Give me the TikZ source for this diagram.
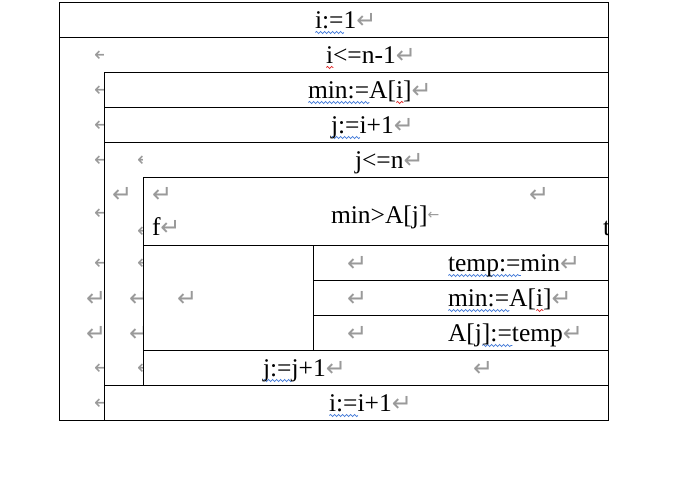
\documentclass[tikz,border=0pt]{standalone}
\usepackage{fontspec}
\setmainfont{Liberation Serif}
\newfontfamily\symf{DejaVu Sans}
\usetikzlibrary{decorations.pathmorphing}
\definecolor{mk}{HTML}{9A9A9A}
\definecolor{wblue}{HTML}{3F78D8}
\definecolor{wred}{HTML}{E02020}
\newlength\wvlen
\newcommand\wv[2]{\settowidth\wvlen{#2}\rlap{\tikz[baseline=0pt]\draw[draw=#1,line width=0.7pt,decorate,decoration={snake,amplitude=1.1pt,segment length=4pt}] (0pt,-4.5pt) -- (\the\wvlen,-4.5pt);}#2}
\newcommand\pmk{{\symf\fontsize{24}{24}\selectfont\textcolor{mk}{↵}}}
\newcommand\lmk{\raisebox{4pt}{\symf\fontsize{14}{14}\selectfont\textcolor{mk}{←}}}
\newcommand\lar{{\symf\fontsize{20}{20}\selectfont\textcolor{mk}{←}}}
\newcommand\larcut{\makebox[5pt][l]{\lar}}
\tikzset{
  txt/.style={anchor=base west,inner sep=0pt,outer sep=0pt,font=\fontsize{25.5}{30}\selectfont},
  pmark/.style={anchor=base west,inner sep=0pt,outer sep=0pt},
  frame/.style={line width=0.9pt,draw=black}
}
\begin{document}
\begin{tikzpicture}[x=1pt,y=-1pt]
\useasboundingbox (0,0) rectangle (691,501);
\fill[white] (0,0) rectangle (691,501);
% structure lines
\draw[frame] (59,2) rectangle (608,420);
\draw[frame] (59,37) -- (608,37);
\draw[frame] (104,72) -- (608,72);
\draw[frame] (104,72) -- (104,420);
\draw[frame] (104,107) -- (608,107);
\draw[frame] (104,142) -- (608,142);
\draw[frame] (143,177) -- (608,177);
\draw[frame] (143,177) -- (143,385);
\draw[frame] (143,245) -- (608,245);
\draw[frame] (313,245) -- (313,350);
\draw[frame] (313,280) -- (608,280);
\draw[frame] (313,315) -- (608,315);
\draw[frame] (143,350) -- (608,350);
\draw[frame] (104,385) -- (608,385);
% texts
\node[txt] (t1) at (315,28) {\wv{wblue}{i:=}1\pmk};
\node[txt] (t2) at (326,63) {\wv{wred}{i}<=n-1\pmk};
\node[txt] (t3) at (308,98) {\wv{wblue}{min:=}A[\wv{wred}{i}]\pmk};
\node[txt] (t4) at (331,133) {\wv{wblue}{j:=}i+1\pmk};
\node[txt] (t5) at (355,168) {j<=n\pmk};
\node[txt] (cond) at (331,223) {min>A[j]\lmk};
\node[txt] (f) at (152,235) {f\pmk};
\begin{scope}
\clip (143,177) rectangle (607.5,245);
\node[txt] (tt) at (603,235) {t};
\end{scope}
\node[txt] (s1) at (448,271) {\wv{wblue}{temp:=}min\pmk};
\node[txt] (s2) at (448,306) {\wv{wblue}{min:=}A[\wv{wred}{i}]\pmk};
\node[txt] (s3) at (448,341) {A[j\wv{wblue}{]:=}temp\pmk};
\node[txt] (s4) at (263,376) {\wv{wblue}{j:=}j+1\pmk};
\node[txt] (s5) at (329,411) {\wv{wblue}{i:=}i+1\pmk};
% free paragraph marks
\node[pmark] (m1) at (152,202) {\pmk};
\node[pmark] (m2) at (529,202) {\pmk};
\node[pmark] (m3) at (112,202) {\pmk};
\node[pmark] (m4) at (177,306) {\pmk};
\node[pmark] (m5) at (347,271) {\pmk};
\node[pmark] (m6) at (347,306) {\pmk};
\node[pmark] (m7) at (347,341) {\pmk};
\node[pmark] (m8) at (473,376) {\pmk};
% clipped marks, left column
\begin{scope}
\clip (59.5,37.5) rectangle (103.5,419.5);
\foreach \yy/\nm in {61/a,96/b,131/c,166/d,219/e,269/g,374/h,409/k}
  \node[pmark] (l\nm) at (94,\yy) {\lar};
\node[pmark] (ll1) at (86,306) {\pmk};
\node[pmark] (ll2) at (86,341) {\pmk};
\end{scope}
% clipped marks, middle column
\begin{scope}
\clip (104.5,142.5) rectangle (142.5,384.5);
\foreach \yy/\nm in {166/a,237/b,269/c,374/d}
  \node[pmark] (c\nm) at (137,\yy) {\larcut};
\node[pmark] (cc1) at (129,306) {\pmk};
\node[pmark] (cc2) at (129,341) {\pmk};
\end{scope}
\end{tikzpicture}
\end{document}
